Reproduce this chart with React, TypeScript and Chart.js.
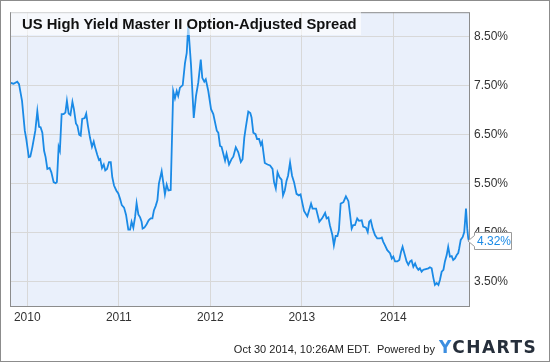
import React, { useEffect, useRef, useState } from 'react';
import { Chart, registerables } from 'chart.js';

Chart.register(...registerables);

const TITLE = 'US High Yield Master II Option-Adjusted Spread';
const FOOTER = 'Oct 30 2014, 10:26AM EDT.  Powered by';
const LOGO_Y = 'Y';
const LOGO_REST = 'CHARTS';

const X_MIN_DATE = '2009-10-24';
const X_MAX_DATE = '2014-10-30';
const X_TICK_YEARS = [2010, 2011, 2012, 2013, 2014];
const Y_TICKS = [3.5, 4.5, 5.5, 6.5, 7.5, 8.5];
const Y_MIN = 3.0;
const Y_MAX = 9.0;

const dates = [
  '2009-10-24', '2009-11-07', '2009-11-22', '2009-11-29', '2009-12-11', '2009-12-22', '2009-12-28',
  '2010-01-07', '2010-01-13', '2010-01-21', '2010-02-02', '2010-02-10', '2010-02-17', '2010-02-23',
  '2010-03-02', '2010-03-09', '2010-03-15', '2010-03-22', '2010-03-31', '2010-04-07', '2010-04-16',
  '2010-04-24', '2010-04-29', '2010-05-06', '2010-05-11', '2010-05-18', '2010-05-26', '2010-06-02',
  '2010-06-08', '2010-06-15', '2010-06-22', '2010-06-30', '2010-07-06', '2010-07-14', '2010-07-20',
  '2010-07-27', '2010-08-02', '2010-08-08', '2010-08-18', '2010-08-24', '2010-08-31', '2010-09-08',
  '2010-09-16', '2010-09-23', '2010-09-29', '2010-10-07', '2010-10-14', '2010-10-19', '2010-10-26',
  '2010-11-02', '2010-11-08', '2010-11-15', '2010-11-23', '2010-11-30', '2010-12-06', '2010-12-13',
  '2010-12-22', '2010-12-30',
  '2011-01-06', '2011-01-13', '2011-01-22', '2011-01-30', '2011-02-08', '2011-02-15', '2011-02-21',
  '2011-02-28', '2011-03-07', '2011-03-13', '2011-03-20', '2011-03-27', '2011-04-02', '2011-04-06',
  '2011-04-13', '2011-04-22', '2011-04-30', '2011-05-08', '2011-05-15', '2011-05-21', '2011-05-28',
  '2011-06-04', '2011-06-10', '2011-06-21', '2011-06-28', '2011-07-04', '2011-07-11', '2011-07-18',
  '2011-07-27', '2011-08-06', '2011-08-13', '2011-08-20', '2011-08-26', '2011-09-02', '2011-09-13',
  '2011-09-22', '2011-09-29', '2011-10-05', '2011-10-16', '2011-10-27', '2011-11-05', '2011-11-14',
  '2011-11-24', '2011-11-30', '2011-12-08', '2011-12-14', '2011-12-24',
  '2012-01-04', '2012-01-13', '2012-01-27', '2012-02-02', '2012-02-09', '2012-02-15', '2012-02-29',
  '2012-03-06', '2012-03-16', '2012-03-26', '2012-04-02', '2012-04-12', '2012-04-22', '2012-05-02',
  '2012-05-09', '2012-05-16', '2012-05-22', '2012-06-01', '2012-06-09', '2012-06-14', '2012-06-21',
  '2012-06-30', '2012-07-06', '2012-07-14', '2012-07-21', '2012-07-26', '2012-08-06', '2012-08-17',
  '2012-08-27', '2012-09-06', '2012-09-12', '2012-09-19', '2012-09-26', '2012-10-04', '2012-10-12',
  '2012-10-18', '2012-10-25', '2012-11-01', '2012-11-07', '2012-11-15', '2012-11-23', '2012-12-01',
  '2012-12-11', '2012-12-20', '2012-12-27',
  '2013-01-05', '2013-01-10', '2013-01-23', '2013-02-07', '2013-02-13', '2013-02-27', '2013-03-12',
  '2013-03-23', '2013-04-04', '2013-04-10', '2013-04-17', '2013-04-23', '2013-05-03', '2013-05-09',
  '2013-05-16', '2013-05-23', '2013-05-29', '2013-06-05', '2013-06-16', '2013-06-26', '2013-07-06',
  '2013-07-12', '2013-07-19', '2013-07-25', '2013-08-01', '2013-08-10', '2013-08-17', '2013-08-28',
  '2013-09-03', '2013-09-14', '2013-09-21', '2013-09-27', '2013-10-03', '2013-10-11', '2013-10-20',
  '2013-10-29', '2013-11-09', '2013-11-16', '2013-11-22', '2013-11-29', '2013-12-08', '2013-12-19',
  '2013-12-26',
  '2014-01-01', '2014-01-08', '2014-01-17', '2014-01-25', '2014-02-01', '2014-02-07', '2014-02-14',
  '2014-02-23', '2014-03-02', '2014-03-09', '2014-03-15', '2014-03-22', '2014-03-29', '2014-04-04',
  '2014-04-11', '2014-04-17', '2014-04-24', '2014-05-01', '2014-05-07', '2014-05-21', '2014-05-27',
  '2014-06-03', '2014-06-10', '2014-06-16', '2014-06-23', '2014-06-30', '2014-07-06', '2014-07-13',
  '2014-07-20', '2014-07-26', '2014-08-02', '2014-08-08', '2014-08-15', '2014-08-22', '2014-08-28',
  '2014-09-04', '2014-09-11', '2014-09-17', '2014-09-21', '2014-09-27', '2014-10-05', '2014-10-11',
  '2014-10-18', '2014-10-23', '2014-10-27', '2014-10-30',
];

const spread = [
  7.56, 7.54, 7.58, 7.53, 7.19, 6.58, 6.41,
  6.04, 6.05, 6.24, 6.58, 6.98, 6.66, 6.65,
  6.54, 6.17, 6.04, 5.80, 5.82, 5.73, 5.53,
  5.51, 5.53, 6.25, 6.17, 6.92, 6.92, 6.95,
  7.19, 6.93, 6.90, 7.17, 7.02, 6.73, 6.68,
  6.50, 6.48, 6.82, 6.84, 6.93, 6.68, 6.44,
  6.25, 6.36, 6.23, 6.09, 5.98, 6.00, 5.82,
  5.89, 5.77, 5.80, 5.94, 5.94, 5.63, 5.46,
  5.36, 5.30,
  5.19, 5.06, 5.01, 4.86, 4.56, 4.56, 4.72,
  4.60, 4.82, 5.10, 4.87, 4.81, 4.72, 4.58,
  4.60, 4.67, 4.75, 4.79, 4.79, 4.95, 5.04,
  5.16, 5.50, 5.75, 5.50, 5.28, 5.48, 5.36,
  5.37, 7.39, 7.24, 7.39, 7.29, 7.46, 7.51,
  7.96, 8.17, 8.72, 7.93, 6.84, 7.29, 7.56,
  8.03, 7.66, 7.58, 7.63, 7.39,
  7.02, 6.92, 6.58, 6.54, 6.27, 6.25, 5.97,
  6.11, 5.89, 6.00, 6.05, 6.24, 6.14, 5.94,
  6.00, 6.44, 6.65, 6.97, 6.94, 6.85, 6.54,
  6.51, 6.41, 6.41, 6.29, 6.35, 5.92, 5.89,
  5.87, 5.80, 5.53, 5.40, 5.73, 5.63, 5.58,
  5.26, 5.36, 5.56, 5.66, 5.93, 5.66, 5.53,
  5.29, 5.26, 5.28,
  5.06, 4.94, 4.83, 5.09, 4.99, 4.99, 4.72,
  4.79, 4.90, 4.79, 4.81, 4.65, 4.45, 4.24,
  4.43, 4.43, 4.55, 5.09, 5.12, 5.24, 5.14,
  4.89, 4.58, 4.65, 4.65, 4.79, 4.74, 4.75,
  4.62, 4.60, 4.51, 4.72, 4.75, 4.58, 4.45,
  4.38, 4.38, 4.40, 4.31, 4.24, 4.14, 4.08,
  3.97,
  4.01, 3.91, 3.91, 3.94, 4.11, 4.21, 4.08,
  3.91, 3.84, 3.91, 3.93, 3.80, 3.87, 3.79,
  3.74, 3.77, 3.70, 3.74, 3.75, 3.77, 3.79,
  3.77, 3.57, 3.43, 3.47, 3.43, 3.53, 3.70,
  3.74, 3.91, 4.04, 4.21, 4.01, 4.02, 3.94,
  3.97, 4.04, 4.08, 4.18, 4.35, 4.41, 4.51,
  4.99, 4.58, 4.38, 4.32,
];

const LINE_COLOR = '#1a8ae6';
const PLOT_BG = '#eaf0fb';
const GRID_COLOR = '#d8d8d8';
const FRAME_COLOR = '#8c8c8c';
const FONT = "'Liberation Sans', Arial, sans-serif";

function toYear(s: string): number {
  const [y, m, d] = s.split('-').map(Number);
  const start = Date.UTC(y, 0, 1);
  const end = Date.UTC(y + 1, 0, 1);
  return y + (Date.UTC(y, m - 1, d) - start) / (end - start);
}

const plotPlugin = {
  id: 'plotDecor',
  beforeDraw(chart: any) {
    const { ctx, chartArea } = chart;
    ctx.save();
    ctx.fillStyle = '#ffffff';
    ctx.fillRect(0, 0, chart.width, chart.height);
    ctx.fillStyle = PLOT_BG;
    ctx.fillRect(chartArea.left, chartArea.top, chartArea.right - chartArea.left, chartArea.bottom - chartArea.top);
    ctx.restore();
  },
  afterDatasetsDraw(chart: any) {
    const { ctx, chartArea } = chart;
    ctx.save();
    ctx.strokeStyle = FRAME_COLOR;
    ctx.lineWidth = 1;
    ctx.strokeRect(chartArea.left + 0.5, chartArea.top + 0.5, chartArea.right - chartArea.left, chartArea.bottom - chartArea.top);
    ctx.restore();
  },
};

export default function App() {
  const canvasRef = useRef<HTMLCanvasElement | null>(null);
  const [tag, setTag] = useState<{ x: number; y: number } | null>(null);

  useEffect(() => {
    if (!canvasRef.current) return;
    const points = dates.map((d, i) => ({ x: toYear(d), y: spread[i] }));
    const chart = new Chart(canvasRef.current, {
      type: 'line',
      data: {
        datasets: [
          {
            data: points,
            borderColor: LINE_COLOR,
            borderWidth: 1.8,
            pointRadius: 0,
            tension: 0,
            fill: false,
          },
        ],
      },
      options: {
        animation: false,
        responsive: false,
        events: [],
        layout: { padding: { left: 10, top: 10, right: 0, bottom: 0 } },
        plugins: {
          legend: { display: false },
          tooltip: { enabled: false },
        },
        scales: {
          x: {
            type: 'linear',
            min: toYear(X_MIN_DATE),
            max: toYear(X_MAX_DATE),
            afterBuildTicks: (s: any) => {
              s.ticks = X_TICK_YEARS.map((v) => ({ value: v }));
            },
            afterFit: (s: any) => {
              s.height = 56;
            },
            grid: { color: GRID_COLOR, drawTicks: false },
            border: { display: false },
            ticks: {
              padding: 4,
              color: '#333333',
              font: { family: FONT, size: 12 },
              maxRotation: 0,
              autoSkip: false,
              callback: (v: any) => String(v),
            },
          },
          y: {
            position: 'right',
            min: Y_MIN,
            max: Y_MAX,
            afterBuildTicks: (s: any) => {
              s.ticks = Y_TICKS.map((v) => ({ value: v }));
            },
            afterFit: (s: any) => {
              s.width = 81;
            },
            grid: { color: GRID_COLOR, drawTicks: false },
            border: { display: false },
            ticks: {
              padding: 5,
              color: '#333333',
              font: { family: FONT, size: 12 },
              callback: (v: any) => Number(v).toFixed(2) + '%',
            },
          },
        },
      } as any,
      plugins: [plotPlugin],
    });
    setTag({
      x: chart.chartArea.right,
      y: chart.scales.y.getPixelForValue(spread[spread.length - 1]),
    });
    return () => chart.destroy();
  }, []);

  const lastLabel = spread[spread.length - 1].toFixed(2) + '%';

  return (
    <div style={{ position: 'absolute', left: 0, top: 0, width: 550, height: 362, background: '#fff', overflow: 'hidden', fontFamily: FONT }}>
      <canvas ref={canvasRef} width={550} height={362} style={{ display: 'block' }} />
      <div
        style={{
          position: 'absolute',
          left: 11,
          top: 11,
          width: 350,
          height: 24,
          boxSizing: 'border-box',
          paddingLeft: 11,
          paddingTop: 1,
          background: 'rgba(255,255,255,0.6)',
          fontWeight: 'bold',
          fontSize: 14.8,
          lineHeight: '24px',
          color: '#111',
          whiteSpace: 'nowrap',
        }}
      >
        {TITLE}
      </div>
      {tag && (
        <>
          <svg
            width={50}
            height={22}
            style={{ position: 'absolute', left: tag.x - 2, top: tag.y - 10, overflow: 'visible' }}
          >
            <path
              d="M1 10 L7.5 4.5 L7.5 1.5 L44.5 1.5 L44.5 18.5 L7.5 18.5 L7.5 15.5 Z"
              fill="#ffffff"
              stroke="#9a9a9a"
              strokeWidth={1}
            />
          </svg>
          <div
            style={{
              position: 'absolute',
              left: tag.x + 8,
              top: tag.y - 8,
              fontSize: 12,
              lineHeight: '17px',
              color: LINE_COLOR,
              whiteSpace: 'nowrap',
            }}
          >
            {lastLabel}
          </div>
        </>
      )}
      <div
        style={{
          position: 'absolute',
          right: 115,
          top: 343,
          fontSize: 11,
          lineHeight: '13px',
          color: '#222',
          whiteSpace: 'pre',
        }}
      >
        {FOOTER}
      </div>
      <div
        style={{
          position: 'absolute',
          left: 439,
          top: 337,
          fontFamily: "'DejaVu Sans', sans-serif",
          fontWeight: 'bold',
          fontSize: 17,
          lineHeight: '20px',
          letterSpacing: '1.5px',
          color: '#262f3b',
          whiteSpace: 'nowrap',
        }}
      >
        <span style={{ color: '#3c8ee0' }}>{LOGO_Y}</span>
        {LOGO_REST}
      </div>
      <div
        style={{
          position: 'absolute',
          left: 0,
          top: 0,
          width: 550,
          height: 362,
          boxSizing: 'border-box',
          border: `1px solid ${FRAME_COLOR}`,
          pointerEvents: 'none',
        }}
      />
    </div>
  );
}
